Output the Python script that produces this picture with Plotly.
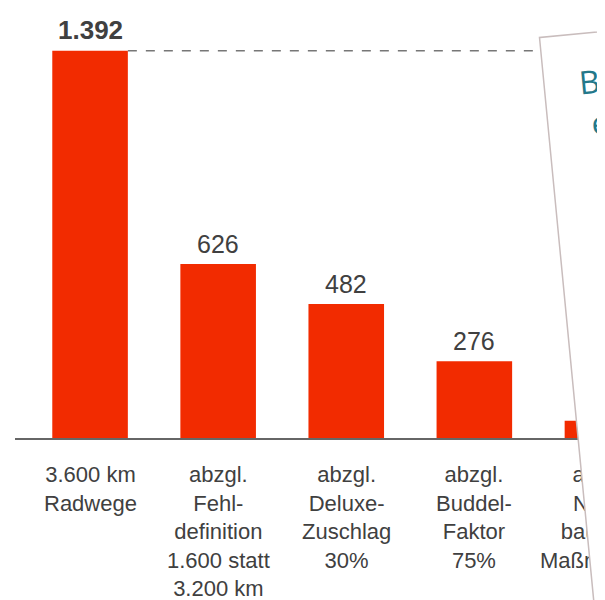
import plotly.graph_objects as go

categories = [
    "3.600 km<br>Radwege",
    "abzgl.<br>Fehl-<br>definition<br>1.600 statt<br>3.200 km",
    "abzgl.<br>Deluxe-<br>Zuschlag<br>30%",
    "abzgl.<br>Buddel-<br>Faktor<br>75%",
    "abzgl.<br>Nicht-<br>bauliche<br>Maßnahmen",
]
values = [1392, 626, 482, 276, 62]
box_text = "&nbsp;B<br>&nbsp;&nbsp;e"

BAR = "#f22b00"
TXT = "#404040"
FONT = "Liberation Sans, Arial, sans-serif"


def de(v):
    return f"{v:,}".replace(",", ".")


xs = list(range(len(values)))

fig = go.Figure()
fig.add_trace(go.Bar(
    x=xs, y=values, width=0.59,
    marker=dict(color=BAR, line=dict(width=0)),
    hoverinfo="skip",
))

annotations = []
# value labels
for i, v in enumerate(values):
    annotations.append(dict(
        x=xs[i], y=v, xref="x", yref="y",
        text=("<b>%s</b>" % de(v)) if i == 0 else de(v),
        showarrow=False, yanchor="bottom", xanchor="center", yshift=4,
        font=dict(size=26 if i == 0 else 25, color=TXT, family=FONT),
    ))
# category labels
for i, c in enumerate(categories):
    annotations.append(dict(
        x=xs[i], y=0, xref="x", yref="y", text=c, showarrow=False,
        yanchor="top", xanchor="center", yshift=-22,
        font=dict(size=22, color=TXT, family=FONT), align="center",
    ))

# overlay info box (tilted, as in the photographed page)
annotations.append(dict(
    x=1.2489, y=0.1028, xref="paper", yref="paper",
    xanchor="center", yanchor="middle",
    text=box_text, showarrow=False, align="left", valign="top",
    width=300, height=700, borderpad=26, borderwidth=1.5,
    bordercolor="#c9bdbd", bgcolor="#ffffff", textangle=-5.5,
    font=dict(size=32, color="#23788a", family="Open Sans, sans-serif"),
))

fig.update_layout(
    width=597, height=592,
    margin=dict(l=7, r=0, t=12, b=162),
    paper_bgcolor="white", plot_bgcolor="white",
    showlegend=False,
    xaxis=dict(range=[-0.586, 4.02], showticklabels=False, showgrid=False,
               zeroline=False, showline=True, linecolor="#666666", linewidth=1.5,
               ticks=""),
    yaxis=dict(range=[0, 1503], visible=False, showgrid=False, zeroline=False),
    annotations=annotations,
    shapes=[dict(type="line", xref="x", yref="y", x0=0.295, x1=4.6,
                 y0=values[0], y1=values[0],
                 line=dict(color="#777777", width=1.5, dash="dash"))],
)

fig.write_html("out.html")
